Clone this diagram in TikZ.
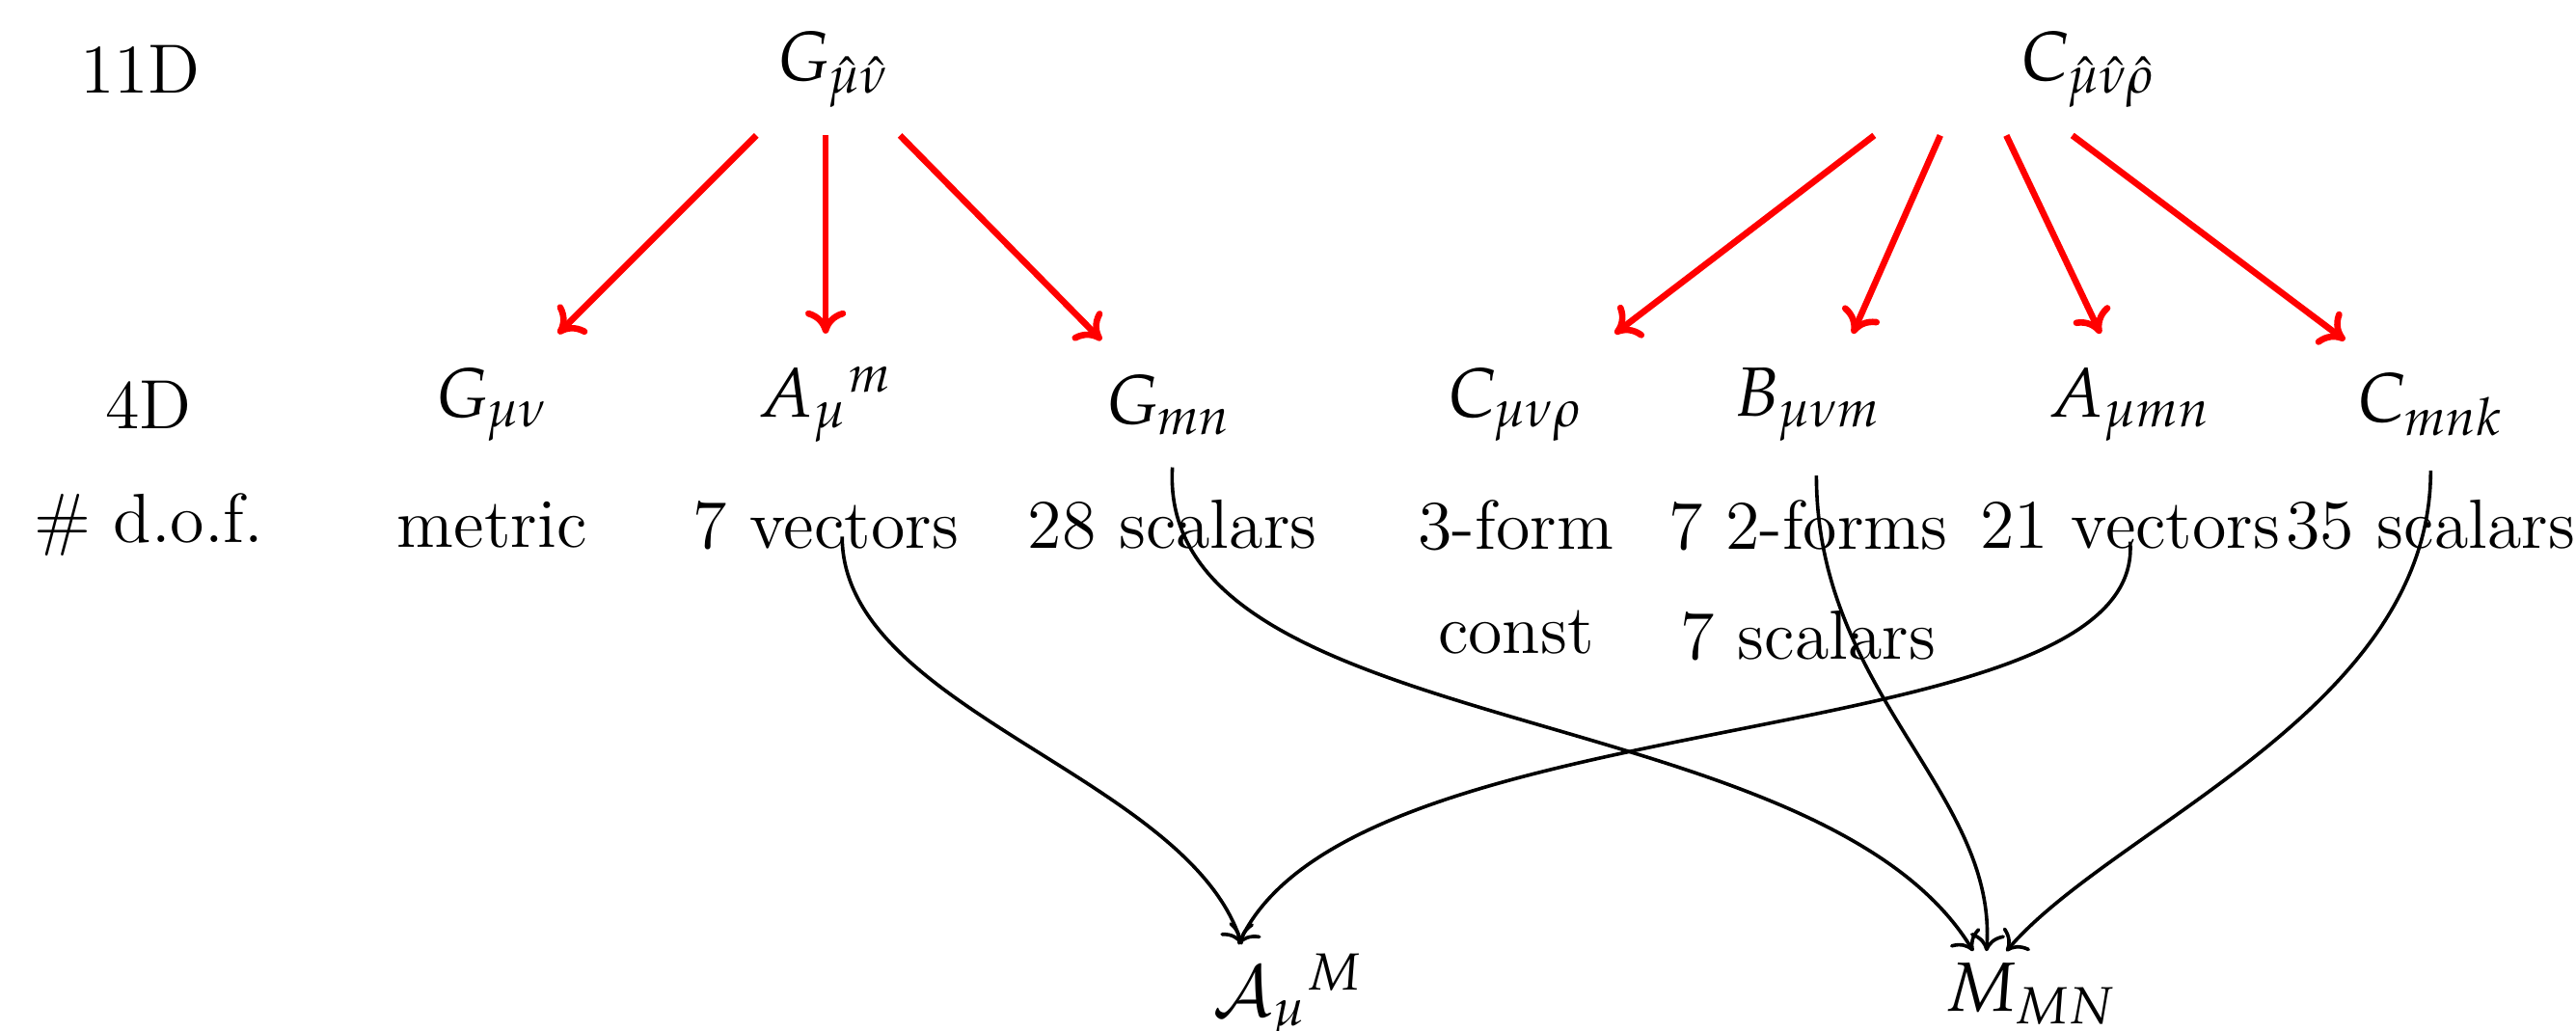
\documentclass[tikz,border=0pt]{standalone}
\usepackage{mathpazo}
\usetikzlibrary{arrows.meta}
\begin{document}
\begin{tikzpicture}[x=0.01cm,y=-0.01cm,
  lab/.style={font=\fontsize{12}{14}\selectfont, inner sep=1pt},
  red/.style={draw=red, line width=1.1pt, -{To[length=4pt,width=7pt]}},
  blk/.style={draw=black, line width=0.6pt, -{To[length=3pt,width=6pt]}}]
\useasboundingbox (0,0) rectangle (1560,624);
\node[lab] (l11) at (85,42) {11D};
\node[lab] (Gh) at (505,42) {$G_{\hat\mu\hat\nu}$};
\node[lab] (Ch) at (1265,42) {$C_{\hat\mu\hat\nu\hat\rho}$};
\node[lab] (l4) at (90,245) {4D};
\node[lab] (g1) at (298,245) {$G_{\mu\nu}$};
\node[lab] (g2) at (500,245) {$A_\mu{}^m$};
\node[lab] (g3) at (708,245) {$G_{mn}$};
\node[lab] (c1) at (918,245) {$C_{\mu\nu\rho}$};
\node[lab] (c2) at (1095,245) {$B_{\mu\nu m}$};
\node[lab] (c3) at (1290,245) {$A_{\mu mn}$};
\node[lab] (c4) at (1472,245) {$C_{mnk}$};
\node[lab] (ld) at (90,318) {\# d.o.f.};
\node[lab] (d1) at (298,318) {metric};
\node[lab] (d2) at (500,318) {7 vectors};
\node[lab] (d3) at (710,318) {28 scalars};
\node[lab] (d4) at (918,318) {3-form};
\node[lab] (d5) at (1095,318) {7 2-forms};
\node[lab] (d6) at (1290,318) {21 vectors};
\node[lab] (d7) at (1472,318) {35 scalars};
\node[lab] (e4) at (918,383) {const};
\node[lab] (e5) at (1095,385) {7 scalars};
\node[lab] (AM) at (780,604) {$\mathcal{A}_\mu{}^M$};
\node[lab] (MM) at (1230,602) {$M_{MN}$};
% red arrows
\coordinate (r1s) at (458,82); \coordinate (r1e) at (338,202);
\coordinate (r2s) at (500,82); \coordinate (r2e) at (500,202);
\coordinate (r3s) at (545,82); \coordinate (r3e) at (667,206);
\coordinate (r4s) at (1135,82); \coordinate (r4e) at (978,202);
\coordinate (r5s) at (1175,82); \coordinate (r5e) at (1122,202);
\coordinate (r6s) at (1215,82); \coordinate (r6e) at (1272,202);
\coordinate (r7s) at (1255,82); \coordinate (r7e) at (1420,206);
\draw[red] (r1s) -- (r1e);
\draw[red] (r2s) -- (r2e);
\draw[red] (r3s) -- (r3e);
\draw[red] (r4s) -- (r4e);
\draw[red] (r5s) -- (r5e);
\draw[red] (r6s) -- (r6e);
\draw[red] (r7s) -- (r7e);
% black curves
\coordinate (b1s) at (510,325); \coordinate (b1e) at (752,572);
\coordinate (b2s) at (710,283); \coordinate (b2e) at (1195,576);
\coordinate (b3s) at (1100,288); \coordinate (b3e) at (1203,576);
\coordinate (b4s) at (1290,328); \coordinate (b4e) at (750,572);
\coordinate (b5s) at (1472,285); \coordinate (b5e) at (1215,576);
\draw[blk] (b1s) .. controls (510,430) and (720,470) .. (b1e);
\draw[blk] (b2s) .. controls (700,450) and (1100,420) .. (b2e);
\draw[blk] (b3s) .. controls (1100,420) and (1210,480) .. (b3e);
\draw[blk] (b4s) .. controls (1300,460) and (820,420) .. (b4e);
\draw[blk] (b5s) .. controls (1472,430) and (1280,500) .. (b5e);
\end{tikzpicture}
\end{document}
